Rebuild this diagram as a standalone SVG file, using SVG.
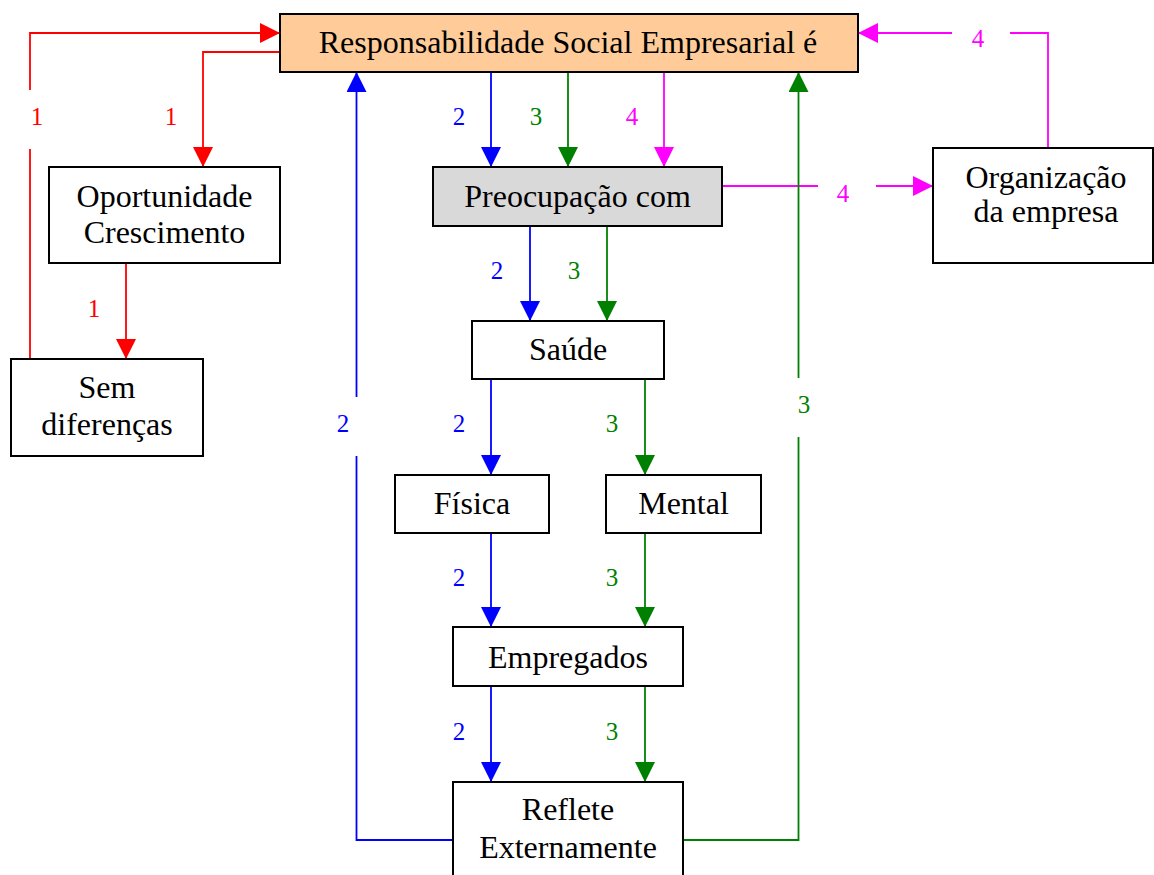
<svg xmlns="http://www.w3.org/2000/svg" width="1154" height="875" viewBox="0 0 1154 875">
  <style>
    .box { fill: #ffffff; stroke: #000000; stroke-width: 2; }
    .txt { font-family: "Liberation Serif", "Times New Roman", serif; font-size: 32px; fill: #000000; text-anchor: middle; }
    .lbl { font-family: "Liberation Serif", "Times New Roman", serif; font-size: 25px; text-anchor: middle; }
    .c { fill: none; stroke-width: 1.8; }
    .red { stroke: #ff0000; }
    .blue { stroke: #0000ff; }
    .green { stroke: #008000; }
    .mag { stroke: #ff00ff; }
  </style>
  <defs>
    <marker id="ah-red" markerUnits="userSpaceOnUse" viewBox="0 0 20 20" refX="20" refY="10" markerWidth="20" markerHeight="20" orient="auto">
      <path d="M0,0 L20,10 L0,20 z" fill="#ff0000"/>
    </marker>
    <marker id="ah-blue" markerUnits="userSpaceOnUse" viewBox="0 0 20 20" refX="20" refY="10" markerWidth="20" markerHeight="20" orient="auto">
      <path d="M0,0 L20,10 L0,20 z" fill="#0000ff"/>
    </marker>
    <marker id="ah-green" markerUnits="userSpaceOnUse" viewBox="0 0 20 20" refX="20" refY="10" markerWidth="20" markerHeight="20" orient="auto">
      <path d="M0,0 L20,10 L0,20 z" fill="#008000"/>
    </marker>
    <marker id="ah-mag" markerUnits="userSpaceOnUse" viewBox="0 0 20 20" refX="20" refY="10" markerWidth="20" markerHeight="20" orient="auto">
      <path d="M0,0 L20,10 L0,20 z" fill="#ff00ff"/>
    </marker>
  </defs>

  <rect width="1154" height="875" fill="#ffffff"/>

  <!-- connectors -->
  <g id="connectors">
    <!-- path 1 (red) -->
    <path class="c red" d="M30,359 V149"/>
    <path class="c red" d="M30,90 V33 H280" marker-end="url(#ah-red)"/>
    <path class="c red" d="M280,52 H203 V167" marker-end="url(#ah-red)"/>
    <path class="c red" d="M126,263 V359" marker-end="url(#ah-red)"/>

    <!-- path 4 (magenta) -->
    <path class="c mag" d="M664,72 V167" marker-end="url(#ah-mag)"/>
    <path class="c mag" d="M722,186 H818"/>
    <path class="c mag" d="M876,186 H933" marker-end="url(#ah-mag)"/>
    <path class="c mag" d="M1048,148 V33 H1010"/>
    <path class="c mag" d="M952,33 H858" marker-end="url(#ah-mag)"/>

    <!-- path 2 (blue) -->
    <path class="c blue" d="M491,72 V167" marker-end="url(#ah-blue)"/>
    <path class="c blue" d="M530,226 V321" marker-end="url(#ah-blue)"/>
    <path class="c blue" d="M491,379 V475" marker-end="url(#ah-blue)"/>
    <path class="c blue" d="M491,533 V627" marker-end="url(#ah-blue)"/>
    <path class="c blue" d="M491,686 V782" marker-end="url(#ah-blue)"/>
    <path class="c blue" d="M453,840 H356.5 V456"/>
    <path class="c blue" d="M356.5,397 V72" marker-end="url(#ah-blue)"/>

    <!-- path 3 (green) -->
    <path class="c green" d="M568,72 V167" marker-end="url(#ah-green)"/>
    <path class="c green" d="M607,226 V321" marker-end="url(#ah-green)"/>
    <path class="c green" d="M645,379 V475" marker-end="url(#ah-green)"/>
    <path class="c green" d="M645,533 V627" marker-end="url(#ah-green)"/>
    <path class="c green" d="M645,686 V782" marker-end="url(#ah-green)"/>
    <path class="c green" d="M683,840 H798.5 V437"/>
    <path class="c green" d="M798.5,378 V72" marker-end="url(#ah-green)"/>

    <!-- labels -->
    <g class="lbl" fill="#ff0000">
      <text x="37" y="125">1</text>
      <text x="171" y="125">1</text>
      <text x="94" y="317">1</text>
    </g>
    <g class="lbl" fill="#0000ff">
      <text x="459" y="125">2</text>
      <text x="497" y="279">2</text>
      <text x="459" y="432">2</text>
      <text x="459" y="586">2</text>
      <text x="459" y="740">2</text>
      <text x="343" y="432">2</text>
    </g>
    <g class="lbl" fill="#008000">
      <text x="536" y="125">3</text>
      <text x="574" y="279">3</text>
      <text x="612" y="432">3</text>
      <text x="612" y="586">3</text>
      <text x="612" y="740">3</text>
      <text x="804" y="413">3</text>
    </g>
    <g class="lbl" fill="#ff00ff">
      <text x="632" y="125">4</text>
      <text x="843" y="202">4</text>
      <text x="978" y="47">4</text>
    </g>
  </g>

  <!-- nodes -->
  <g id="rse">
    <rect class="box" x="280" y="14" width="578" height="58" style="fill:#ffcc99"/>
    <text class="txt" x="568" y="53">Responsabilidade Social Empresarial é</text>
  </g>
  <g id="oportunidade">
    <rect class="box" x="49" y="167" width="231" height="96"/>
    <text class="txt" x="164.5" y="207">Oportunidade</text>
    <text class="txt" x="164.5" y="243">Crescimento</text>
  </g>
  <g id="sem-diferencas">
    <rect class="box" x="11" y="359" width="192" height="97"/>
    <text class="txt" x="107" y="398">Sem</text>
    <text class="txt" x="107" y="435">diferenças</text>
  </g>
  <g id="preocupacao">
    <rect class="box" x="433" y="167" width="289" height="59" style="fill:#d9d9d9"/>
    <text class="txt" x="577.5" y="207">Preocupação com</text>
  </g>
  <g id="organizacao">
    <rect class="box" x="933" y="148" width="220" height="115"/>
    <text class="txt" x="1046" y="188">Organização</text>
    <text class="txt" x="1046" y="222">da empresa</text>
  </g>
  <g id="saude">
    <rect class="box" x="472" y="321" width="192" height="58"/>
    <text class="txt" x="568" y="360">Saúde</text>
  </g>
  <g id="fisica">
    <rect class="box" x="395" y="475" width="154" height="58"/>
    <text class="txt" x="472" y="514">Física</text>
  </g>
  <g id="mental">
    <rect class="box" x="606" y="475" width="155" height="58"/>
    <text class="txt" x="683.5" y="514">Mental</text>
  </g>
  <g id="empregados">
    <rect class="box" x="453" y="627" width="230" height="59"/>
    <text class="txt" x="568" y="668">Empregados</text>
  </g>
  <g id="reflete">
    <rect class="box" x="453" y="782" width="230" height="110"/>
    <text class="txt" x="568" y="820">Reflete</text>
    <text class="txt" x="568" y="858">Externamente</text>
  </g>
</svg>
